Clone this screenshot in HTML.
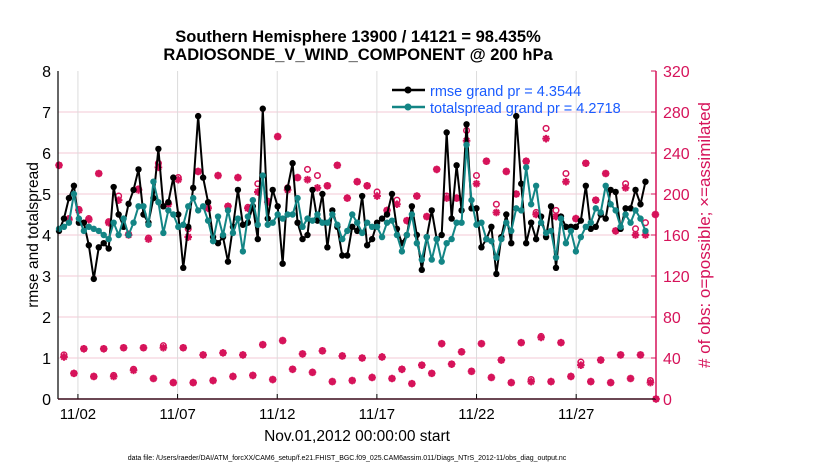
<!DOCTYPE html>
<html><head><meta charset="utf-8"><style>
body{margin:0;background:#fff;}
svg{display:block;font-family:"Liberation Sans",Arial,sans-serif;}
</style></head><body>
<svg id="chart" width="830" height="470" viewBox="0 0 830 470" xmlns="http://www.w3.org/2000/svg">
<rect width="830" height="470" fill="#fff"/>
<text x="358" y="42" text-anchor="middle" font-size="16.5" font-weight="bold">Southern Hemisphere 13900 / 14121 = 98.435%</text>
<text x="358" y="60" text-anchor="middle" font-size="16.5" font-weight="bold">RADIOSONDE_V_WIND_COMPONENT @ 200 hPa</text>
<g id="grid"></g>
<g id="marks"></g>
<g id="axes"></g>
<text transform="translate(38,235) rotate(-90)" text-anchor="middle" font-size="15.5">rmse and totalspread</text>
<text transform="translate(710,235) rotate(-90)" text-anchor="middle" font-size="17" fill="#d6135a"># of obs: o=possible; ×=assimilated</text>
<text x="357" y="441" text-anchor="middle" font-size="15.5">Nov.01,2012 00:00:00 start</text>
<text x="347" y="460" text-anchor="middle" font-size="7">data file: /Users/raeder/DAI/ATM_forcXX/CAM6_setup/f.e21.FHIST_BGC.f09_025.CAM6assim.011/Diags_NTrS_2012-11/obs_diag_output.nc</text>
<g>
<line x1="392" y1="90" x2="425" y2="90" stroke="#000" stroke-width="2.5"/><circle cx="408" cy="90" r="3.5" fill="#000"/>
<text x="430" y="96" font-size="14.5" fill="#1a5cff">rmse grand pr = 4.3544</text>
<line x1="392" y1="107" x2="425" y2="107" stroke="#138585" stroke-width="2.5"/><circle cx="408" cy="107" r="3.5" fill="#138585"/>
<text x="430" y="113" font-size="14.5" fill="#1a5cff">totalspread grand pr = 4.2718</text>
</g>
</svg>
<script>
const rmse=[4.1,4.4,4.9,5.2,4.3,4.3,3.75,2.93,3.7,3.8,3.67,5.17,4.5,4.2,4.76,5.1,5.6,4.5,4.3,4.9,6.1,4.7,4.8,5.4,4.5,3.2,4.2,5.15,6.9,5.4,4.8,3.95,3.8,3.95,3.35,4.2,5.1,4.25,4.3,
4.7,3.9,7.08,4.4,5.1,4.7,3.3,5.15,5.75,4.3,3.9,4.0,5.1,4.35,5.0,3.7,4.6,4.2,3.5,3.5,4.2,4.1,4.95,3.75,3.9,4.3,4.4,4.5,5.0,4.15,3.8,4.0,4.7,4.0,3.15,3.95,4.6,3.9,4.0,
6.5,4.4,5.7,4.6,6.7,4.65,4.65,3.7,3.9,4.2,3.05,3.95,4.5,3.8,6.9,5.25,3.8,4.3,3.9,4.45,3.95,4.7,3.2,4.45,4.2,4.2,4.2,4.35,5.2,4.15,4.2,4.5,4.4,5.1,5.05,4.15,4.65,4.65,5.1,4.75,5.3];
const spread=[4.15,4.2,4.3,5.0,4.4,4.1,4.2,4.15,4.1,4.0,3.9,4.3,4.0,4.4,4.0,4.3,4.7,4.7,4.25,5.3,4.8,4.05,4.6,4.5,4.2,4.25,4.7,4.9,4.6,4.7,4.35,3.85,4.45,4.0,4.6,4.05,4.4,3.6,4.45,
4.85,4.25,5.45,4.25,4.3,4.5,4.4,4.5,4.5,4.9,4.2,4.4,4.35,4.5,4.3,4.3,4.5,4.25,3.9,4.1,4.5,4.3,4.05,4.3,4.2,4.2,3.95,4.3,4.35,4.0,3.6,4.0,4.5,3.8,3.4,3.95,3.4,3.9,3.35,
3.8,3.9,4.3,4.3,6.2,4.85,4.25,4.3,3.9,3.85,3.45,3.9,4.3,4.1,4.65,4.6,5.65,4.75,5.2,4.3,4.05,4.1,3.45,4.4,3.8,4.1,3.6,3.95,4.2,4.3,4.65,4.55,5.2,4.75,4.6,4.2,4.5,4.3,4.6,4.4,4.1];
const upperAssim=[228,175,184,175,220,172,194,160,204,156,226,190,214,158,222,186,218,188,216,186,
202,192,256,204,216,214,206,208,228,196,212,208,198,184,190,174,198,178,224,196,196,
252,210,232,182,222,200,232,180,254,178,212,176,230,194,220,164,206,160,160,180];
const upperPossible=[228,176,185,176,220,173,198,161,205,157,230,191,216,166,222,187,218,188,216,187,
210,193,256,206,216,224,218,208,228,196,212,208,202,184,194,174,198,178,224,198,196,
262,218,232,190,222,200,232,182,264,184,220,176,230,194,220,164,210,166,172,180];
const lowerAssim=[41,25,49,22,49,22,50,28,50,20,50,16,50,16,43,18,45,22,43,23,53,19,57,29,44,26,47,17,42,18,
40,21,41,20,29,15,33,25,54,34,46,27,54,21,38,16,55,17,60,17,55,22,33,17,38,16,43,20,43,16,0];
const lowerPossible=[43,25,49,22,49,23,50,29,50,20,52,16,50,16,43,18,45,22,43,23,53,19,57,29,44,26,47,17,42,18,
40,21,41,20,29,15,33,25,54,34,46,27,54,21,38,16,55,19,61,17,55,22,36,17,38,16,43,20,43,18,0];
const xTickLabels=['11/02','11/07','11/12','11/17','11/22','11/27'];
const xTickDays=[1,6,11,16,21,26];
const leftTicks=[0,1,2,3,4,5,6,7,8];
const rightTicks=[0,40,80,120,160,200,240,280,320];

const NS='http://www.w3.org/2000/svg';
const X0=58,X1=656,Y0=399,Y1=71;
function xDay(d){return X0+d*19.93;}
function xSlot(s){return X0+1+s*4.97;}
function yL(v){return Y0-(v/8)*(Y0-Y1);}
function yR(v){return Y0-(v/320)*(Y0-Y1);}
function mk(tag,attrs,parent){const e=document.createElementNS(NS,tag);for(const k in attrs)e.setAttribute(k,attrs[k]);parent.appendChild(e);return e;}
const grid=document.getElementById('grid'),marks=document.getElementById('marks'),axes=document.getElementById('axes');
const PINK='#d6135a',TEAL='#138585';

leftTicks.forEach(v=>{
  if(v>0&&v<8){const l=mk('line',{x1:X0,x2:X1,y1:yL(v),y2:yL(v),stroke:'#f3c9d6','stroke-width':1},grid);
  
  }
  const t=mk('text',{x:X0-7,y:yL(v)+6,'text-anchor':'end','font-size':16},axes);t.textContent=v;
  
  
});
xTickDays.forEach((d,i)=>{
  const l=mk('line',{x1:xDay(d),x2:xDay(d),y1:Y1,y2:Y0,stroke:'#dcdcdc','stroke-width':1},grid);
  
  
  mk('line',{x1:xDay(d),x2:xDay(d),y1:Y0,y2:Y0-5,stroke:'#000'},axes);
  const t=mk('text',{x:xDay(d),y:Y0+20,'text-anchor':'middle','font-size':15},axes);t.textContent=xTickLabels[i];
  
  
});
rightTicks.forEach(v=>{
  mk('line',{x1:X1,x2:X1-5,y1:yR(v),y2:yR(v),stroke:PINK},axes);
  const t=mk('text',{x:X1+7,y:yR(v)+6,'font-size':16,fill:PINK},axes);t.textContent=v;
  
  
});
const axL=mk('line',{x1:X0,x2:X0,y1:Y1,y2:Y0,stroke:'#000','stroke-width':1.2},axes);


const axB=mk('line',{x1:X0,x2:X1,y1:Y0,y2:Y0,stroke:'#3a0a1a','stroke-width':1.5},axes);


const axR=mk('line',{x1:X1,x2:X1,y1:Y1,y2:Y0,stroke:PINK,'stroke-width':1.5},axes);



function countMark(x,yp,ya){
  const g=mk('g',{},marks);
  
  
  mk('circle',{cx:x,cy:yp,r:2.8,fill:'none',stroke:PINK,'stroke-width':1.5},g);
  const s=3.8;
  mk('path',{d:`M${x-s} ${ya}H${x+s}M${x} ${ya-s}V${ya+s}M${x-2.7} ${ya-2.7}L${x+2.7} ${ya+2.7}M${x-2.7} ${ya+2.7}L${x+2.7} ${ya-2.7}`,stroke:PINK,'stroke-width':2},g);
}
upperAssim.forEach((v,j)=>countMark(xSlot(2*j),yR(upperPossible[j]),yR(v)));
lowerAssim.forEach((v,j)=>{const s=j===lowerAssim.length-1?120:2*j+1;countMark(j===lowerAssim.length-1?X1:xSlot(s),yR(lowerPossible[j]),yR(v));});

function series(arr,color,name){
  const p=mk('polyline',{points:arr.map((v,i)=>xSlot(i)+','+yL(v)).join(' '),fill:'none',stroke:color,'stroke-width':2},marks);
  
  
  arr.forEach((v,i)=>{const c=mk('circle',{cx:xSlot(i),cy:yL(v),r:3.2,fill:color},marks);
    
    });
}
series(rmse,'#000','rmse');
series(spread,TEAL,'totalspread');
</script>
</body></html>
